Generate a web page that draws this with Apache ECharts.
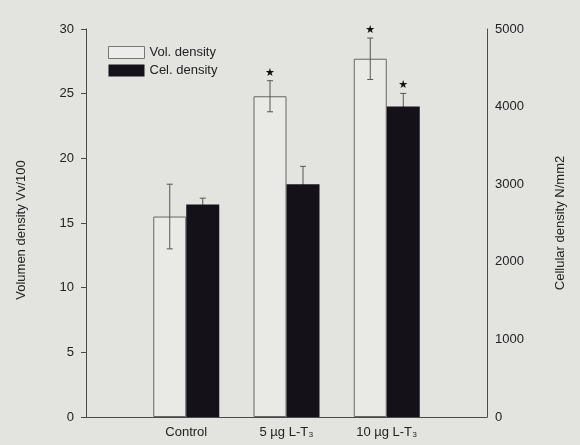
<!DOCTYPE html>
<html>
<head>
<meta charset="utf-8">
<script src="https://cdn.jsdelivr.net/npm/echarts@6/dist/echarts.min.js"></script>
<style>
html,body{margin:0;padding:0;background:#e3e3e0;}
#c{width:580px;height:445px;}
</style>
</head>
<body>
<div id="c"></div>
<script>
// Categories (blank entries pad the axis edges)
const categories = ['', 'Control', '5 µg L-T₃', '10 µg L-T₃', ''];
// Volumen density Vv/100 (left axis)
const volMean = ['-', 15.5, 24.8, 27.7, '-'];
const volErr = [0, 2.5, 1.2, 1.6, 0];
const volStar = [false, false, true, true, false];
// Cellular density N/mm2 (right axis)
const celMean = ['-', 2740, 3000, 4000, '-'];
const celErr = [0, 80, 230, 170, 0];
const celStar = [false, false, false, true, false];
// Tick settings
const leftTicks = {min: 0, max: 30, interval: 5};
const rightTicks = {min: 0, max: 5000, interval: 1000};

const BAR_W = 33;
const FONT = 'Liberation Sans, Arial, sans-serif';
const AX = '#4a4a4a';

function errData(mean, err, star) {
  const out = [];
  mean.forEach((m, i) => { if (m !== '-') out.push([i, m, err[i], star[i] ? 1 : 0]); });
  return out;
}
function errRender(offset) {
  return function (params, api) {
    const i = api.value(0), m = api.value(1), e = api.value(2), s = api.value(3);
    const top = api.coord([i, m + e]);
    const bot = api.coord([i, m - e]);
    const x = top[0] + offset;
    const children = [
      {type: 'line', shape: {x1: x, y1: top[1], x2: x, y2: bot[1]}, style: {stroke: '#555', lineWidth: 1}},
      {type: 'line', shape: {x1: x - 3, y1: top[1], x2: x + 3, y2: top[1]}, style: {stroke: '#555', lineWidth: 1}},
      {type: 'line', shape: {x1: x - 3, y1: bot[1], x2: x + 3, y2: bot[1]}, style: {stroke: '#555', lineWidth: 1}}
    ];
    if (s) {
      children.push({type: 'text', x: x, y: top[1] - 8,
        style: {text: '★', fill: '#111', fontSize: 11, align: 'center', verticalAlign: 'middle', fontFamily: 'DejaVu Sans'}});
    }
    return {type: 'group', children: children};
  };
}

const chart = echarts.init(document.getElementById('c'));
chart.setOption({
  backgroundColor: '#e3e3e0',
  animation: false,
  textStyle: {fontFamily: FONT},
  grid: {left: 86, right: 93, top: 29, bottom: 28, containLabel: false},
  legend: {
    orient: 'vertical', left: 103, top: 41, itemWidth: 36, itemHeight: 12, itemGap: 5,
    textStyle: {fontSize: 13, color: '#222', fontFamily: FONT},
    data: [
      {name: 'Vol. density', icon: 'rect', itemStyle: {color: '#ececea', borderColor: '#777', borderWidth: 1}},
      {name: 'Cel. density', icon: 'rect', itemStyle: {color: '#141218'}}
    ]
  },
  xAxis: {
    type: 'category', data: categories, boundaryGap: false,
    axisLine: {lineStyle: {color: AX, width: 1}},
    axisTick: {show: false},
    axisLabel: {color: '#222', fontSize: 13, margin: 9, fontFamily: FONT, interval: 0},
    splitLine: {show: false}
  },
  yAxis: [
    {
      type: 'value', position: 'left', min: leftTicks.min, max: leftTicks.max, interval: leftTicks.interval,
      name: 'Volumen density Vv/100', nameLocation: 'middle', nameRotate: 90, nameGap: 58,
      nameTextStyle: {fontSize: 13, color: '#222', fontFamily: FONT, padding: [0, 14, 0, 0]},
      axisLine: {show: true, lineStyle: {color: AX}},
      axisTick: {show: true, length: 5, lineStyle: {color: AX}},
      axisLabel: {color: '#222', fontSize: 13, margin: 12, fontFamily: FONT},
      splitLine: {show: false}
    },
    {
      type: 'value', position: 'right', min: rightTicks.min, max: rightTicks.max, interval: rightTicks.interval,
      name: 'Cellular density N/mm2', nameLocation: 'middle', nameRotate: 90, nameGap: 67,
      nameTextStyle: {fontSize: 13, color: '#222', fontFamily: FONT},
      axisLine: {show: true, lineStyle: {color: AX}},
      axisTick: {show: false},
      axisLabel: {color: '#222', fontSize: 13, margin: 8, fontFamily: FONT, formatter: v => String(v)},
      splitLine: {show: false}
    }
  ],
  series: [
    {
      name: 'Vol. density', type: 'bar', yAxisIndex: 0, data: volMean, barWidth: BAR_W, barGap: '0%',
      itemStyle: {color: 'rgba(236,236,234,0.6)', borderColor: '#666', borderWidth: 1}, z: 2
    },
    {
      name: 'Cel. density', type: 'bar', yAxisIndex: 1, data: celMean, barWidth: BAR_W, barGap: '0%',
      itemStyle: {color: '#141218'}, z: 2
    },
    {
      type: 'custom', yAxisIndex: 0, data: errData(volMean, volErr, volStar),
      renderItem: errRender(-BAR_W / 2), z: 5
    },
    {
      type: 'custom', yAxisIndex: 1, data: errData(celMean, celErr, celStar),
      renderItem: errRender(BAR_W / 2), z: 1
    }
  ]
});
</script>
</body>
</html>
